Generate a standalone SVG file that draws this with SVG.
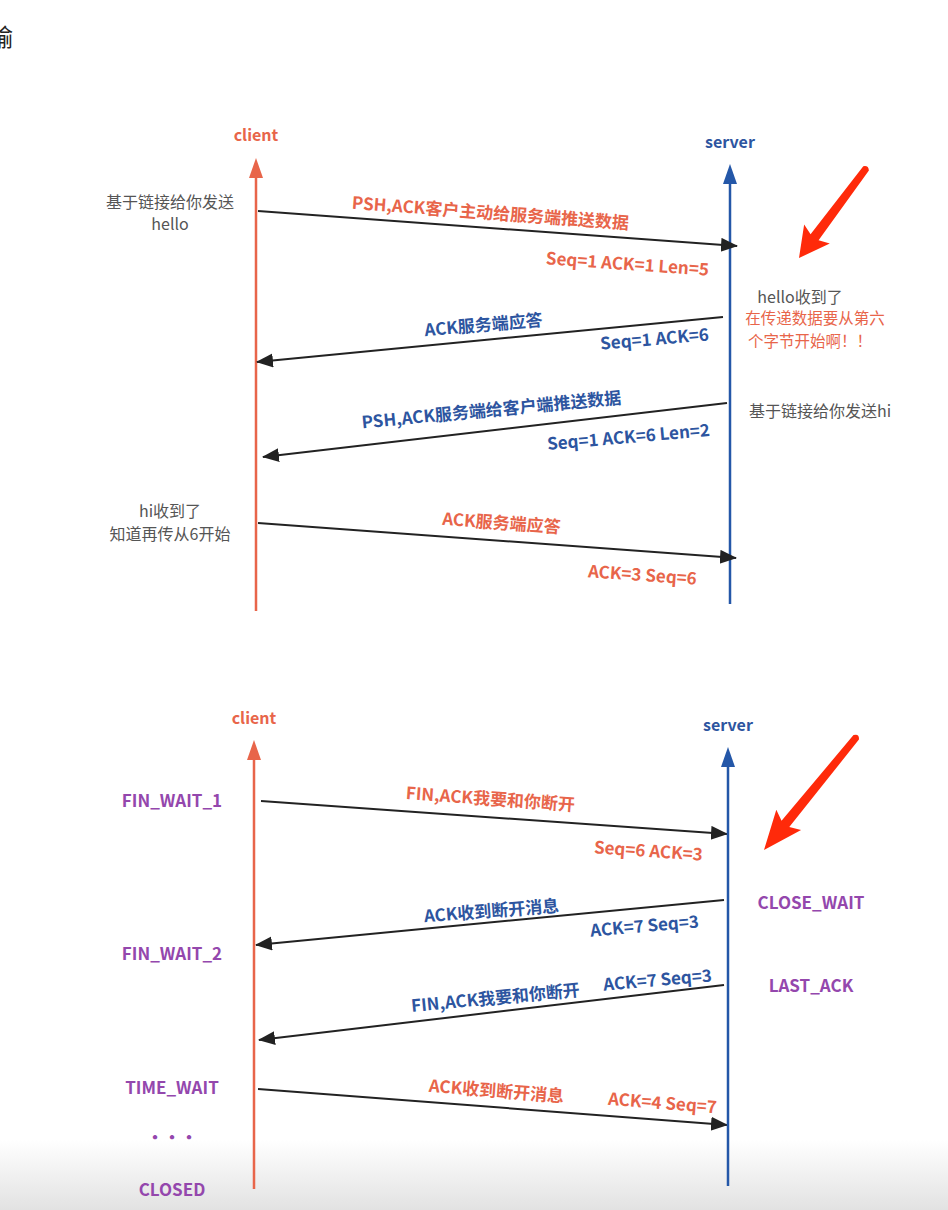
<svg xmlns="http://www.w3.org/2000/svg" width="948" height="1210" viewBox="0 0 948 1210">
<defs>
<style>
text{font-family:"Noto Sans CJK SC","Noto Sans",sans-serif;}
.hd{font-size:16px;font-weight:700;text-anchor:middle;}
.r{fill:#e8654a;}
.b{fill:#2d55a0;}
.lb{font-size:17px;font-weight:700;text-anchor:middle;}
.g{font-size:16px;fill:#555;text-anchor:middle;}
.gr{font-size:15.5px;fill:#e8654a;text-anchor:middle;}
.st{font-size:17px;font-weight:700;text-anchor:middle;fill:#9447ad;}
.cl{stroke:#e8654a;stroke-width:2.5;fill:none;}
.sv{stroke:#2457a8;stroke-width:2.5;fill:none;}
.msg{stroke:#222;stroke-width:2;fill:none;marker-end:url(#ah);}
.big{fill:#ff2a0a;}
</style>
<marker id="ah" markerUnits="userSpaceOnUse" markerWidth="20" markerHeight="16" refX="16" refY="7" orient="auto">
<path d="M0,0 L17,7 L0,14 Z" fill="#222"/>
</marker>
<linearGradient id="fade" x1="0" y1="0" x2="0" y2="1">
<stop offset="0" stop-color="#ffffff"/>
<stop offset="1" stop-color="#e2e2e2"/>
</linearGradient>
<g id="bigArrow">
<path d="M0,0 L30,-16 L26,-5 L112,-3.5 Q116,0 112,3.5 L26,5 L30,16 Z"/>
</g>
</defs>
<rect width="948" height="1210" fill="#ffffff"/>
<rect x="0" y="1140" width="948" height="70" fill="url(#fade)"/>
<text x="-11" y="46" style="font-size:24px;fill:#222;">输</text>

<!-- TOP SECTION -->
<g id="client1">
<text class="hd r" x="256" y="141">client</text>
<line class="cl" x1="256" y1="175" x2="256" y2="611"/>
<path d="M249,178 L256,158 L263,178 Z" fill="#e8654a"/>
</g>
<g id="server1">
<text class="hd b" x="730" y="148">server</text>
<line class="sv" x1="730" y1="180" x2="730" y2="604"/>
<path d="M723,184 L730,164 L737,184 Z" fill="#2457a8"/>
</g>

<g id="connectors">
<line class="msg" x1="258" y1="211" x2="737" y2="246"/>
<line class="msg" x1="723" y1="317" x2="257" y2="362"/>
<line class="msg" x1="727" y1="403" x2="263" y2="457"/>
<line class="msg" x1="258" y1="523" x2="736" y2="558"/>
<line class="msg" x1="261" y1="801" x2="727" y2="834"/>
<line class="msg" x1="724" y1="900" x2="256" y2="945"/>
<line class="msg" x1="724" y1="985" x2="259" y2="1040"/>
<line class="msg" x1="258" y1="1089" x2="727" y2="1125"/>
</g>

<g id="labels1">
<text class="lb r" transform="translate(490,219) rotate(4.2)">PSH,ACK客户主动给服务端推送数据</text>
<text class="lb r" transform="translate(627,270) rotate(4)">Seq=1 ACK=1 Len=5</text>
<text class="lb b" transform="translate(484,331) rotate(-5)">ACK服务端应答</text>
<text class="lb b" transform="translate(655,345) rotate(-5)">Seq=1 ACK=6</text>
<text class="lb b" transform="translate(492,416) rotate(-5.5)">PSH,ACK服务端给客户端推送数据</text>
<text class="lb b" transform="translate(629,443) rotate(-5)">Seq=1 ACK=6 Len=2</text>
<text class="lb r" transform="translate(501,529) rotate(4)">ACK服务端应答</text>
<text class="lb r" transform="translate(642,581) rotate(4)">ACK=3 Seq=6</text>
</g>

<g id="notes1">
<text class="g" x="170" y="208">基于链接给你发送</text>
<text class="g" x="170" y="230">hello</text>
<text class="g" x="800" y="303">hello收到了</text>
<text class="gr" x="815" y="324">在传递数据要从第六</text>
<text class="gr" x="810" y="347">个字节开始啊！！</text>
<text class="g" x="820" y="417">基于链接给你发送hi</text>
<text class="g" x="170" y="517">hi收到了</text>
<text class="g" x="170" y="540">知道再传从6开始</text>
</g>

<g id="pointer1" class="big">
<use href="#bigArrow" transform="translate(799,258) rotate(-53.2)"/>
</g>

<!-- BOTTOM SECTION -->
<g id="client2">
<text class="hd r" x="254" y="724">client</text>
<line class="cl" x1="254" y1="757" x2="254" y2="1189"/>
<path d="M247,760 L254,740 L261,760 Z" fill="#e8654a"/>
</g>
<g id="server2">
<text class="hd b" x="728" y="731">server</text>
<line class="sv" x1="728" y1="764" x2="728" y2="1186"/>
<path d="M721,767 L728,747 L735,767 Z" fill="#2457a8"/>
</g>

<g id="labels2">
<text class="lb r" transform="translate(490,805) rotate(4)">FIN,ACK我要和你断开</text>
<text class="lb r" transform="translate(648,857) rotate(4)">Seq=6 ACK=3</text>
<text class="lb b" transform="translate(492,917) rotate(-4.5)">ACK收到断开消息</text>
<text class="lb b" transform="translate(645,932) rotate(-5)">ACK=7 Seq=3</text>
<text class="lb b" transform="translate(496,1004) rotate(-5.5)">FIN,ACK我要和你断开</text>
<text class="lb b" transform="translate(658,986) rotate(-5)">ACK=7 Seq=3</text>
<text class="lb r" transform="translate(496,1097) rotate(4.5)">ACK收到断开消息</text>
<text class="lb r" transform="translate(662,1109) rotate(4.5)">ACK=4 Seq=7</text>
</g>

<g id="states">
<text class="st" x="172" y="807">FIN_WAIT_1</text>
<text class="st" x="172" y="960">FIN_WAIT_2</text>
<text class="st" x="172" y="1094">TIME_WAIT</text>
<text class="st" x="172" y="1144">・・・</text>
<text class="st" x="172" y="1196">CLOSED</text>
<text class="st" x="811" y="909">CLOSE_WAIT</text>
<text class="st" x="811" y="992">LAST_ACK</text>
</g>

<g id="pointer2" class="big">
<use href="#bigArrow" transform="translate(764,850) rotate(-50.7) scale(1.3,1)"/>
</g>
</svg>
